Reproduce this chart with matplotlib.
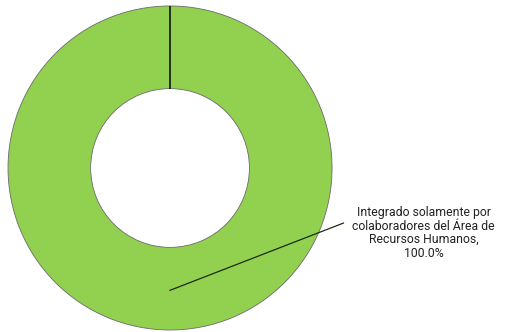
import numpy as np
import matplotlib.pyplot as plt

labels = ['Integrado solamente por\ncolaboradores del Área de\nRecursos Humanos,']
values = [100.0]
colors = ['#92D050']

start = 90
outer, ring = 1.0, 0.51

fig = plt.figure(figsize=(5.12, 3.32), dpi=100)
ax = fig.add_axes([0.0156, 0.006, 0.633, 0.976])

wedges, _ = ax.pie(values, colors=colors, startangle=start, counterclock=False,
                   radius=outer,
                   wedgeprops=dict(width=ring, edgecolor='#6b6b6b', linewidth=0.6))
ax.set_xlim(-1, 1)
ax.set_ylim(-1, 1)
ax.set_aspect('equal')

# radial border where the single slice starts and ends
a = np.deg2rad(start)
ax.plot([(outer - ring) * np.cos(a), outer * np.cos(a)],
        [(outer - ring) * np.sin(a), outer * np.sin(a)],
        color='#1c2410', lw=1.3, solid_capstyle='butt')

total = sum(values)
for w, lab, v in zip(wedges, labels, values):
    # leader line from the middle of the ring to the label
    ax.plot([0.0, 1.07], [-0.755, -0.34], color='#1e2a10', lw=0.9, clip_on=False)
    ax.text(1.565, -0.40, f'{lab}\n{v / total * 100:.1f}%', ha='center', va='center',
            fontsize=8.8, family=['Roboto', 'DejaVu Sans'], color='#222222',
            linespacing=1.05, clip_on=False)

fig.savefig('out.png', dpi=100)
